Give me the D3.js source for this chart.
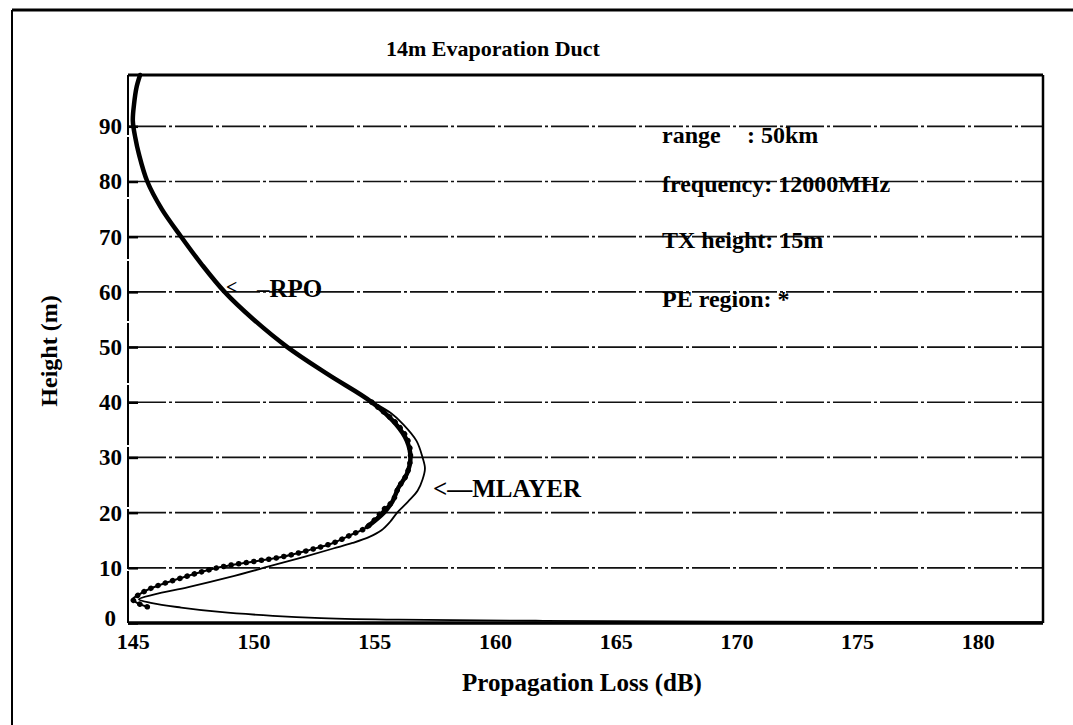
<!DOCTYPE html>
<html>
<head>
<meta charset="utf-8">
<script src="https://cdn.jsdelivr.net/npm/d3@7"></script>
<style>
  html, body { margin: 0; padding: 0; background: #fff; }
  svg { display: block; }
  text { font-family: "Liberation Serif", "Times New Roman", serif; font-weight: bold; fill: #000; }
</style>
</head>
<body>
<svg id="chart" width="1073" height="725"></svg>
<script>
// ---------------- data ----------------
const xTicks = [145, 150, 155, 160, 165, 170, 175, 180];
const yTicks = [0, 10, 20, 30, 40, 50, 60, 70, 80, 90];
const gridLevels = [10, 20, 30, 40, 50, 60, 70, 80, 90];

// RPO (thick solid line)
const rpoHeight = [99.3, 97, 94, 91, 88, 85, 80, 75, 70, 65, 60, 55, 50, 45, 40, 36, 33, 30, 27, 24.5, 22, 20, 17.4];
const rpoLoss   = [145.3, 145.15, 145.05, 145.0, 145.1, 145.25, 145.6, 146.2, 147.0, 147.85, 148.8, 150.0, 151.4, 153.1, 154.9, 155.9, 156.35, 156.5, 156.35, 156.0, 155.75, 155.4, 154.7];

// PE region (dotted markers)
const peHeight = [40, 36, 33, 30, 27, 24.5, 22, 20.8, 17.4, 15.9, 14.5, 13.2, 12.0, 10.1, 8.3, 6.2, 5.0, 4.3, 3.6, 2.8];
const peLoss   = [154.9, 155.95, 156.4, 156.5, 156.35, 156.0, 155.75, 155.45, 154.7, 154.0, 153.3, 152.3, 151.2, 148.6, 147.1, 145.7, 145.2, 145.0, 145.2, 145.7];

// MLAYER (thin solid line)
const mlayerHeight = [42, 40, 38, 36, 33, 30, 28, 26, 24, 22, 20, 18.3, 16.8, 15.6, 14.5, 13.5, 12, 10.2, 8.3, 6.5, 5.2, 4.3, 3.6, 2.8, 2.0, 1.3, 0.9, 0.6, 0.4, 0.25, 0.15];
const mlayerLoss   = [154.2, 154.95, 155.7, 156.2, 156.75, 157.0, 157.1, 157.0, 156.8, 156.4, 155.95, 155.65, 155.3, 154.8, 154.1, 153.3, 152.1, 150.6, 149.0, 147.3, 145.9, 145.25, 145.8, 147.0, 148.6, 150.8, 152.8, 156.0, 162.0, 170.0, 182.7];

const infoLines = ["range", "frequency: 12000MHz", "TX height: 15m", "PE region: *"];

// ---------------- layout ----------------
const svg = d3.select("#chart");
const W = 1073, H = 725;
const pL = 128, pR = 1043, pT = 75, pB = 623;

const x = d3.scaleLinear().domain([144.8, 182.7]).range([pL, pR]);
const y = d3.scaleLinear().domain([0, 99.3]).range([pB, pT]);

// outer frame (scan border)
svg.append("line").attr("x1", 12).attr("x2", W).attr("y1", 10).attr("y2", 10)
  .attr("stroke", "#000").attr("stroke-width", 3);
svg.append("line").attr("x1", 12).attr("x2", 12).attr("y1", 10).attr("y2", H)
  .attr("stroke", "#000").attr("stroke-width", 2);

// grid lines (dash-dot)
svg.append("g").selectAll("line").data(gridLevels).join("line")
  .attr("x1", pL).attr("x2", pR)
  .attr("y1", d => y(d)).attr("y2", d => y(d))
  .attr("stroke", "#111").attr("stroke-width", 1.7)
  .attr("stroke-dasharray", "38,3,3,3");

// plot borders
svg.append("line").attr("x1", pL).attr("x2", pR).attr("y1", pT).attr("y2", pT)
  .attr("stroke", "#000").attr("stroke-width", 3);
svg.append("line").attr("x1", pR).attr("x2", pR).attr("y1", pT).attr("y2", pB)
  .attr("stroke", "#000").attr("stroke-width", 2.5);
svg.append("line").attr("x1", pL).attr("x2", pR).attr("y1", pB).attr("y2", pB)
  .attr("stroke", "#000").attr("stroke-width", 3.5);
svg.append("line").attr("x1", pL).attr("x2", pL).attr("y1", pT).attr("y2", pB)
  .attr("stroke", "#000").attr("stroke-width", 2)
  .attr("stroke-dasharray", "60,2");

// axes
const xAxis = d3.axisBottom(x).tickValues(xTicks).tickSize(0).tickPadding(10).tickFormat(d3.format("d"));
const gx = svg.append("g").attr("transform", `translate(0,${pB})`).call(xAxis);
gx.select(".domain").remove();
gx.selectAll("text").attr("font-size", 22).attr("font-family", "Liberation Serif").attr("fill", "#000");

const yAxis = d3.axisLeft(y).tickValues(yTicks).tickSizeInner(-10).tickSizeOuter(0).tickPadding(6).tickFormat(d3.format("d"));
const gy = svg.append("g").attr("transform", `translate(${pL},0)`).call(yAxis);
gy.select(".domain").remove();
gy.selectAll(".tick line").attr("stroke", "#000").attr("stroke-width", 2.5);
gy.selectAll("text").attr("font-size", 23).attr("font-family", "Liberation Serif").attr("fill", "#000");
gy.selectAll(".tick").filter(d => d === 0).select("text").attr("dx", -6).attr("dy", "0.1em");

// curves
const line = d3.line().x(d => x(d[0])).y(d => y(d[1])).curve(d3.curveCatmullRom.alpha(0.5));

const mlayerPts = mlayerLoss.map((v, i) => [v, mlayerHeight[i]]);
const rpoPts = rpoLoss.map((v, i) => [v, rpoHeight[i]]);
const pePts = peLoss.map((v, i) => [v, peHeight[i]]);

svg.append("path").datum(mlayerPts).attr("d", line)
  .attr("fill", "none").attr("stroke", "#000").attr("stroke-width", 1.8);

svg.append("path").datum(pePts).attr("d", line)
  .attr("fill", "none").attr("stroke", "#000").attr("stroke-width", 2);
svg.append("path").datum(pePts).attr("d", line)
  .attr("fill", "none").attr("stroke", "#000").attr("stroke-width", 5.5)
  .attr("stroke-linecap", "round").attr("stroke-dasharray", "0.1,7.5");

svg.append("path").datum(rpoPts).attr("d", line)
  .attr("fill", "none").attr("stroke", "#000").attr("stroke-width", 4.5)
  .attr("stroke-linecap", "round");

// title and axis labels
svg.append("text").attr("x", 493).attr("y", 56).attr("text-anchor", "middle")
  .attr("font-size", 22).text("14m Evaporation Duct");
svg.append("text").attr("x", 582).attr("y", 691).attr("text-anchor", "middle")
  .attr("font-size", 25).text("Propagation Loss (dB)");
svg.append("text").attr("transform", "translate(57,351) rotate(-90)").attr("text-anchor", "middle")
  .attr("font-size", 24).text("Height (m)");

// info block
const infoY = [143, 192, 248, 307];
svg.append("g").selectAll("text").data(infoLines).join("text")
  .attr("x", 662).attr("y", (d, i) => infoY[i])
  .attr("font-size", 24).text(d => d);
svg.append("text").attr("x", 747).attr("y", 143).attr("font-size", 24).text(": 50km");

// curve annotations
svg.append("text").attr("x", 226).attr("y", 294).attr("font-size", 20).text("<");
svg.append("text").attr("x", 257).attr("y", 297).attr("font-size", 25).text("\u2013RPO");
svg.append("text").attr("x", 433).attr("y", 497).attr("font-size", 25).text("<\u2014MLAYER");
</script>
</body>
</html>
